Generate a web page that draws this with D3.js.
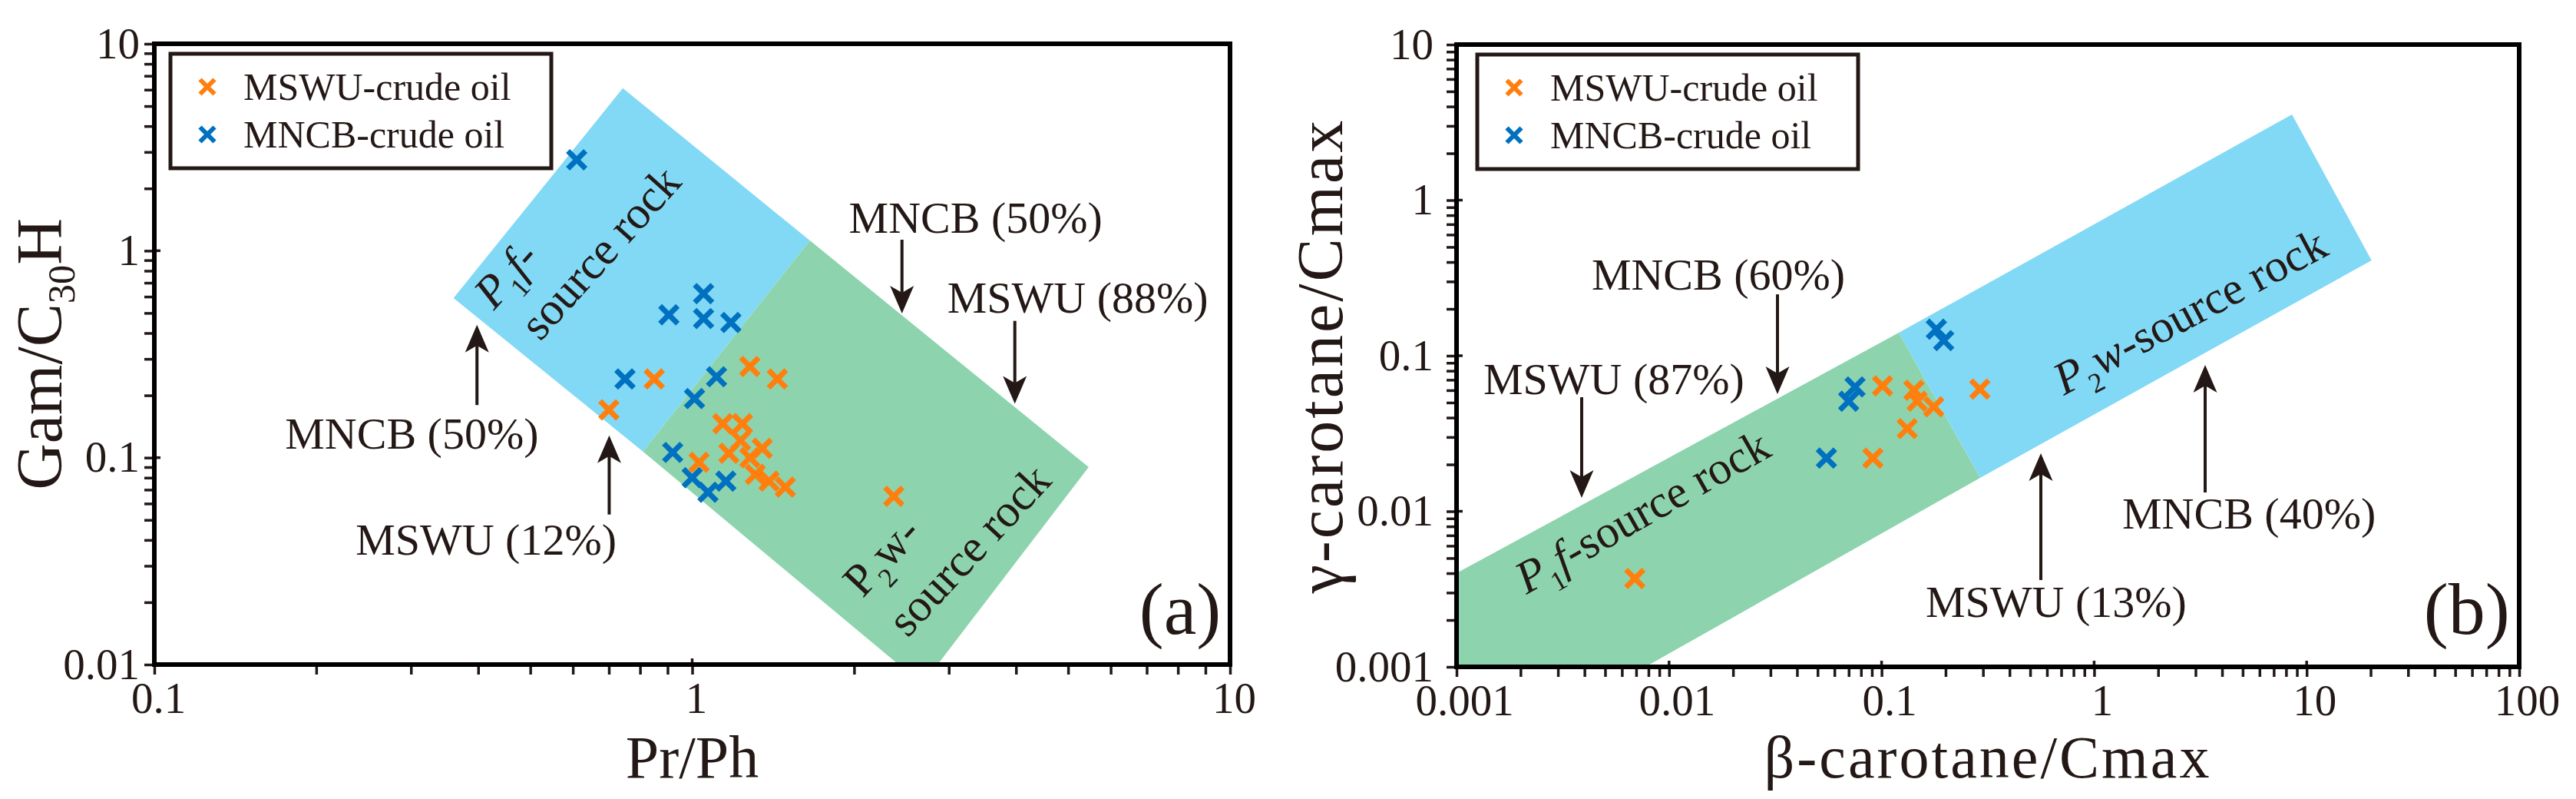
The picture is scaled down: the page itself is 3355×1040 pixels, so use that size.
<!DOCTYPE html>
<html><head><meta charset="utf-8">
<script src="https://cdn.jsdelivr.net/npm/d3@7"></script>
<style>
body{margin:0;background:#fff}
svg{display:block;background:#fff}
text{font-family:"Liberation Serif","Times New Roman",Times,serif;fill:#231815}
</style></head>
<body><svg id="c" width="3355" height="1040"></svg>
<script>
// ---------------- DATA ----------------
const seriesNames = ["MSWU-crude oil", "MNCB-crude oil"];

// Panel (a): Pr/Ph vs Gam/C30H
const prPhMSWU = [0.85, 0.70, 1.28, 1.44, 1.14, 1.24, 1.23, 1.35, 1.17, 1.28, 1.03, 1.31, 1.39, 1.49, 2.37];
const gamMSWU  = [0.24, 0.17, 0.276, 0.24, 0.146, 0.146, 0.121, 0.111, 0.105, 0.100, 0.095, 0.083, 0.077, 0.072, 0.065];
const prPhMNCB = [0.61, 1.05, 0.905, 1.05, 1.18, 0.75, 1.11, 1.01, 0.92, 1.00, 1.155, 1.07];
const gamMNCB  = [2.75, 0.62, 0.49, 0.47, 0.45, 0.24, 0.246, 0.193, 0.106, 0.080, 0.077, 0.068];

// Panel (b): beta-carotane/Cmax vs gamma-carotane/Cmax
const betaMSWU  = [0.101, 0.142, 0.147, 0.176, 0.132, 0.091, 0.29, 0.0069];
const gammaMSWU = [0.064, 0.060, 0.051, 0.047, 0.034, 0.022, 0.061, 0.0037];
const betaMNCB  = [0.181, 0.196, 0.075, 0.070, 0.055];
const gammaMNCB = [0.148, 0.125, 0.063, 0.051, 0.022];

// Source-rock fields (data units)
const fieldA_P1f = [[0.36, 0.59], [0.743, 6.1], [1.655, 1.12], [0.81, 0.107]];
const fieldA_P2w = [[1.655, 1.12], [5.46, 0.09], [2.86, 0.01], [2.42, 0.01], [0.81, 0.107]];
const fieldB_P1f = [[0.001, 0.004], [0.1205, 0.1406], [0.291, 0.0164], [0.00774, 0.001], [0.001, 0.001]];
const fieldB_P2w = [[0.1205, 0.1406], [8.53, 3.55], [20.2, 0.41], [0.291, 0.0164]];

// Tick labels
const xMajorA = [0.1, 1, 10], xLabelsA = ["0.1", "1", "10"];
const yMajorA = [0.01, 0.1, 1, 10], yLabelsA = ["0.01", "0.1", "1", "10"];
const xMajorB = [0.001, 0.01, 0.1, 1, 10, 100], xLabelsB = ["0.001", "0.01", "0.1", "1", "10", "100"];
const yMajorB = [0.001, 0.01, 0.1, 1, 10], yLabelsB = ["0.001", "0.01", "0.1", "1", "10"];

// Annotations (arrow x, tail y, tip y; text anchor) in data units
const annotA = [
  {text: "MNCB (50%)", tx: 1.956, ty: 1.222, ax: 2.455, from: 1.13, to: 0.498},
  {text: "MSWU (88%)", tx: 2.98, ty: 0.503, ax: 3.98, from: 0.458, to: 0.182},
  {text: "MNCB (50%)", tx: 0.175, ty: 0.1107, ax: 0.398, from: 0.1795, to: 0.4385},
  {text: "MSWU (12%)", tx: 0.2367, ty: 0.0341, ax: 0.701, from: 0.0531, to: 0.128}
];
const annotB = [
  {text: "MNCB (60%)", tx: 0.00432, ty: 0.266, ax: 0.03237, from: 0.248, to: 0.0566},
  {text: "MSWU (87%)", tx: 0.001338, ty: 0.0566, ax: 0.00388, from: 0.0541, to: 0.0122},
  {text: "MSWU (13%)", tx: 0.1612, ty: 0.002094, ax: 0.5614, from: 0.00361, to: 0.0236},
  {text: "MNCB (40%)", tx: 1.356, ty: 0.00774, ax: 3.33, from: 0.0132, to: 0.0872}
];

// ---------------- STYLE ----------------
const ORANGE = "#ff7f0e", BLUE = "#0070c0";
const FIELD_BLUE = "#82d9f5", FIELD_GREEN = "#8dd4ae";
const INK = "#231815";

const svg = d3.select("#c");

function minorTicks(lo, hi) {
  const out = [];
  for (let e = Math.round(Math.log10(lo)); e < Math.round(Math.log10(hi)); e++)
    for (let k = 1; k <= 9; k++) out.push(+(k * Math.pow(10, e)).toPrecision(3));
  out.push(hi);
  return out;
}

function drawArrow(g, X, Y1, Y2) {
  const dir = Y2 > Y1 ? 1 : -1, hl = 36, hw = 15.5, notch = 27;
  g.append("line").attr("x1", X).attr("x2", X).attr("y1", Y1).attr("y2", Y2 - dir * notch)
    .attr("stroke", INK).attr("stroke-width", 4);
  g.append("path").attr("d", `M${X},${Y2}L${X - hw},${Y2 - dir * hl}L${X},${Y2 - dir * notch}L${X + hw},${Y2 - dir * hl}Z`)
    .attr("fill", INK);
}

function fieldLabel(g, px, py, rot, parts, line2, l2dx, l2dy, size) {
  const t = g.append("g").attr("transform", `translate(${px},${py}) rotate(${rot})`)
    .append("text").attr("font-size", size);
  parts.forEach(p => {
    const ts = t.append("tspan").text(p.t);
    if (p.italic) ts.attr("font-style", "italic");
    if (p.sub) ts.attr("font-size", size * 0.6).attr("dy", size * 0.28);
    if (p.up) ts.attr("dy", -size * 0.28);
  });
  if (line2) t.append("tspan").attr("x", l2dx).attr("dy", l2dy).text(line2);
}

function drawPanel(cfg) {
  const x = d3.scaleLog().domain(cfg.xDomain).range([cfg.left, cfg.right]);
  const y = d3.scaleLog().domain(cfg.yDomain).range([cfg.bottom, cfg.top]);
  const g = svg.append("g");
  const line = d3.line().x(d => x(d[0])).y(d => y(d[1]));

  // fields
  cfg.fields.forEach(f => g.append("path").attr("d", line(f.pts) + "Z").attr("fill", f.color));
  cfg.fieldLabels.forEach(l => fieldLabel(g, x(l.x), y(l.y), l.rot, l.parts, l.line2, l.l2dx, l.l2dy, l.size));

  // points
  const h = 11.5;
  cfg.series.forEach(s => {
    g.append("g").selectAll("path").data(d3.zip(s.xs, s.ys)).join("path")
      .attr("d", d => {
        const cx = x(d[0]), cy = y(d[1]);
        return `M${cx - h},${cy - h}L${cx + h},${cy + h}M${cx - h},${cy + h}L${cx + h},${cy - h}`;
      })
      .attr("stroke", s.color).attr("stroke-width", 7).attr("fill", "none");
  });

  // annotations
  cfg.annots.forEach(a => {
    g.append("text").attr("x", x(a.tx)).attr("y", y(a.ty)).attr("font-size", 58).text(a.text);
    drawArrow(g, x(a.ax), y(a.from), y(a.to));
  });
  g.append("text").attr("x", x(cfg.tag.x)).attr("y", y(cfg.tag.y)).attr("font-size", 96).text(cfg.tag.t);

  // axes
  const fmt = (majors, labels) => d => {
    const i = majors.findIndex(m => Math.abs(m - d) / m < 1e-6);
    return i >= 0 ? labels[i] : "";
  };
  const xa = g.append("g").attr("transform", `translate(0,${cfg.bottom})`)
    .call(d3.axisBottom(x).tickValues(minorTicks(cfg.xDomain[0], cfg.xDomain[1])).tickSize(13).tickPadding(10)
      .tickFormat(fmt(cfg.xMajor, cfg.xLabels)));
  const ya = g.append("g").attr("transform", `translate(${cfg.left},0)`)
    .call(d3.axisLeft(y).tickValues(minorTicks(cfg.yDomain[0], cfg.yDomain[1])).tickSize(13).tickPadding(cfg.yPad)
      .tickFormat(fmt(cfg.yMajor, cfg.yLabels)));
  [xa, ya].forEach(a => {
    a.attr("font-family", null).attr("font-size", null);
    a.select(".domain").remove();
    a.selectAll("line").attr("stroke", INK).attr("stroke-width", 3.5);
    a.selectAll("text").attr("font-size", 57).attr("fill", INK);
  });
  xa.selectAll("text").attr("dx", cfg.xLabDx);
  // major ticks cross inward
  cfg.xMajor.forEach(v => g.append("line").attr("x1", x(v)).attr("x2", x(v)).attr("y1", cfg.bottom).attr("y2", cfg.bottom - 8).attr("stroke", INK).attr("stroke-width", 3.5));
  cfg.yMajor.forEach(v => g.append("line").attr("y1", y(v)).attr("y2", y(v)).attr("x1", cfg.left).attr("x2", cfg.left + 8).attr("stroke", INK).attr("stroke-width", 3.5));

  // frame
  g.append("rect").attr("x", cfg.left).attr("y", cfg.top).attr("width", cfg.right - cfg.left).attr("height", cfg.bottom - cfg.top)
    .attr("fill", "none").attr("stroke", "#000").attr("stroke-width", 6);

  // axis titles
  const xt = g.append("text").attr("x", (cfg.left + cfg.right) / 2).attr("y", cfg.xTitleY).attr("text-anchor", "middle")
    .attr("font-size", cfg.xTitleSize).attr("letter-spacing", cfg.xTitleLS || 0);
  cfg.xTitle.forEach(p => { xt.append("tspan").text(p.t); });
  const yt = g.append("text").attr("transform", `translate(${cfg.yTitleX},${(cfg.top + cfg.bottom) / 2}) rotate(-90)`)
    .attr("text-anchor", "middle").attr("font-size", cfg.yTitleSize).attr("letter-spacing", cfg.yTitleLS || 0);
  cfg.yTitle.forEach(p => {
    const ts = yt.append("tspan").text(p.t);
    if (p.sub) ts.attr("font-size", cfg.yTitleSize * 0.6).attr("dy", cfg.yTitleSize * 0.2);
    if (p.up) ts.attr("dy", -cfg.yTitleSize * 0.2);
  });

  // legend
  const lg = g.append("g").attr("transform", `translate(${cfg.left + cfg.legendDX},${cfg.top + 13})`);
  lg.append("rect").attr("width", 496).attr("height", 149).attr("fill", "#fff").attr("stroke", INK).attr("stroke-width", 5);
  cfg.series.forEach((s, i) => {
    const cy = 43 + i * 62, cx = 48, hh = 9.5;
    lg.append("path").attr("d", `M${cx - hh},${cy - hh}L${cx + hh},${cy + hh}M${cx - hh},${cy + hh}L${cx + hh},${cy - hh}`)
      .attr("stroke", s.color).attr("stroke-width", 6);
    lg.append("text").attr("x", 95).attr("y", cy + 17).attr("font-size", 50).text(s.name);
  });
}

drawPanel({
  left: 201, right: 1602, top: 57, bottom: 865,
  xDomain: [0.1, 10], yDomain: [0.01, 10],
  xMajor: xMajorA, xLabels: xLabelsA, yMajor: yMajorA, yLabels: yLabelsA,
  yPad: 6, xLabDx: 5,
  fields: [{pts: fieldA_P1f, color: FIELD_BLUE}, {pts: fieldA_P2w, color: FIELD_GREEN}],
  fieldLabels: [
    {x: 0.428, y: 0.511, rot: -48, size: 60,
     parts: [{t: "P", italic: true}, {t: "1", sub: true}, {t: "f-", italic: true, up: true}],
     line2: "source rock", l2dx: 10, l2dy: 72},
    {x: 2.075, y: 0.02077, rot: -47, size: 60,
     parts: [{t: "P"}, {t: "2", sub: true}, {t: "w-", up: true}],
     line2: "source rock", l2dx: 2, l2dy: 78}
  ],
  series: [
    {name: seriesNames[0], xs: prPhMSWU, ys: gamMSWU, color: ORANGE},
    {name: seriesNames[1], xs: prPhMNCB, ys: gamMNCB, color: BLUE}
  ],
  annots: annotA,
  tag: {t: "(a)", x: 6.78, y: 0.01413},
  xTitle: [{t: "Pr/Ph"}], xTitleY: 1012, xTitleSize: 78,
  yTitle: [{t: "Gam/C"}, {t: "30", sub: true}, {t: "H", up: true}], yTitleX: 80, yTitleSize: 84,
  legendDX: 21
});

drawPanel({
  left: 1897, right: 3281, top: 58, bottom: 868,
  xDomain: [0.001, 100], yDomain: [0.001, 10],
  xMajor: xMajorB, xLabels: xLabelsB, yMajor: yMajorB, yLabels: yLabelsB,
  yPad: 17, xLabDx: 10,
  fields: [{pts: fieldB_P1f, color: FIELD_GREEN}, {pts: fieldB_P2w, color: FIELD_BLUE}],
  fieldLabels: [
    {x: 0.00213, y: 0.00291, rot: -29.5, size: 60,
     parts: [{t: "P", italic: true}, {t: "1", sub: true}, {t: "f", italic: true, up: true}, {t: "-source rock"}]},
    {x: 0.7206, y: 0.0553, rot: -28, size: 60,
     parts: [{t: "P", italic: true}, {t: "2", sub: true}, {t: "w", italic: true, up: true}, {t: "-source rock"}]}
  ],
  series: [
    {name: seriesNames[0], xs: betaMSWU, ys: gammaMSWU, color: ORANGE},
    {name: seriesNames[1], xs: betaMNCB, ys: gammaMNCB, color: BLUE}
  ],
  annots: annotB,
  tag: {t: "(b)", x: 35.6, y: 0.00163},
  xTitle: [{t: "β-carotane/Cmax"}], xTitleY: 1012, xTitleSize: 78, xTitleLS: 3,
  yTitle: [{t: "γ-carotane/Cmax"}], yTitleX: 1748, yTitleSize: 84, yTitleLS: 3,
  legendDX: 27
});
</script>
</body></html>
